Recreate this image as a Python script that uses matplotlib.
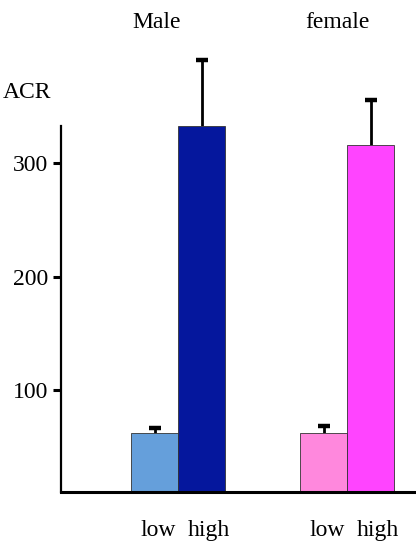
import matplotlib
matplotlib.use("Agg")
import matplotlib.pyplot as plt
import numpy as np

groups = ["Male", "female"]
levels = ["low", "high"]
low_vals = [62, 62]
high_vals = [333, 316]
low_err = [4, 6]
high_err = [58, 40]
colors_low = ["#659fdb", "#ff88dd"]
colors_high = ["#05179d", "#ff44ff"]
yticks = [100, 200, 300]

plt.rcParams['font.family'] = ['Liberation Serif', 'DejaVu Serif']
FS = 17

fig = plt.figure(figsize=(4.16, 5.43), dpi=100)
ax = fig.add_axes([61/416, 1-492/543, 1-61/416, (492-27)/543])

centers = np.array([2.49, 6.09])
w = 1.0
xl = centers - w/2
xh = centers + w/2

ax.bar(xl, low_vals, width=w, color=colors_low, edgecolor="#333333", linewidth=0.6, zorder=2)
ax.bar(xh, high_vals, width=w, color=colors_high, edgecolor="#333333", linewidth=0.6, zorder=2)

for xs, vals, errs in [(xl, low_vals, low_err), (xh, high_vals, high_err)]:
    vals = np.asarray(vals, float)
    errs = np.asarray(errs, float)
    ax.errorbar(xs, vals, yerr=[np.zeros_like(errs), errs], fmt="none", ecolor="black",
                elinewidth=2.0, capsize=0, zorder=1)
    ax.scatter(xs, vals + errs, marker="_", s=70, linewidths=3.2, color="black", zorder=3)

ax.set_xlim(0, 355/47)
ax.set_ylim(10, 420)
for s in ["top", "right"]:
    ax.spines[s].set_visible(False)
ax.spines["left"].set_bounds(10, 333)
ax.spines["left"].set_linewidth(1.6)
ax.spines["bottom"].set_linewidth(2.2)

ax.set_yticks(yticks)
ax.set_yticklabels([str(v) for v in yticks], fontsize=FS)
ax.tick_params(axis="y", direction="out", length=6, width=2.2, pad=3)

ticks = np.concatenate([xl + 0.08, xh + 0.15])
labels = np.array(levels[:1] * 2 + levels[1:] * 2)
order = np.argsort(ticks)
ax.set_xticks(ticks[order])
ax.set_xticklabels(labels[order], fontsize=FS)
ax.tick_params(axis="x", length=0, pad=20)

fig.text(157/416, 1-22/543, groups[0], ha="center", va="center", fontsize=FS)
fig.text(337/416, 1-22/543, groups[1], ha="center", va="center", fontsize=FS)
fig.text(27/416, 1-92/543, "ACR", ha="center", va="center", fontsize=FS)

fig.savefig("out.png", dpi=100)
